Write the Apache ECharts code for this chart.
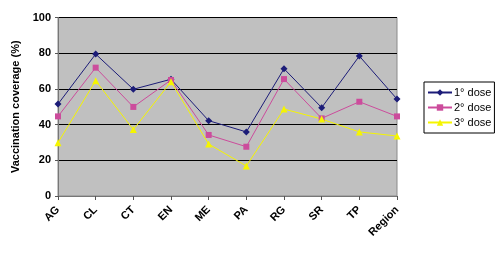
<!DOCTYPE html>
<html>
<head>
<meta charset="utf-8">
<script src="https://cdn.jsdelivr.net/npm/echarts@6/dist/echarts.min.js"></script>
<style>
  html, body { margin: 0; padding: 0; background: #fff; }
  #root { width: 500px; height: 256px; }
</style>
</head>
<body>
<div id="root"></div>
<script>
let root = document.getElementById('root');
let myCharts = echarts.init(root);

let categories = ['AG', 'CL', 'CT', 'EN', 'ME', 'PA', 'RG', 'SR', 'TP', 'Region'];
let dose1 = [51.5, 79.5, 59.8, 65.4, 42.2, 35.9, 71.3, 49.5, 78.4, 54.3];
let dose2 = [44.6, 71.9, 49.9, 65.0, 34.2, 27.6, 65.5, 43.5, 52.8, 44.6];
let dose3 = [29.9, 64.6, 37.2, 64.0, 29.1, 16.8, 48.7, 43.1, 35.9, 33.6];
let seriesNames = ['1° dose', '2° dose', '3° dose'];

let font = 'Liberation Sans, Arial, sans-serif';

let option = {
    animation: false,
    grid: {
        show: true,
        left: 58,
        right: 103,
        top: 17.5,
        bottom: 60,
        backgroundColor: '#c0c0c0',
        borderColor: '#8a8a8a',
        borderWidth: 1,
    },
    legend: {
        orient: 'vertical',
        left: 424,
        top: 82,
        itemWidth: 24,
        itemHeight: 8,
        itemGap: 4,
        padding: [5, 3, 5, 3],
        borderColor: '#000',
        borderWidth: 1,
        textStyle: { fontFamily: font, fontSize: 11, color: '#000', padding: [0, 0, 0, -3] },
        data: seriesNames,
    },
    xAxis: {
        type: 'category',
        data: categories,
        boundaryGap: false,
        axisLine: { lineStyle: { color: '#777', width: 1 } },
        axisTick: { show: true, alignWithLabel: true, length: 4, lineStyle: { color: '#555' } },
        axisLabel: {
            rotate: 45,
            margin: 12,
            fontFamily: font,
            fontSize: 11,
            fontWeight: 'bold',
            color: '#000',
        },
        splitLine: { show: false },
    },
    yAxis: {
        type: 'value',
        min: 0,
        max: 100,
        interval: 20,
        name: 'Vaccination coverage (%)',
        nameLocation: 'middle',
        nameGap: 29,
        nameTextStyle: { fontFamily: font, fontSize: 11, fontWeight: 'bold', color: '#000' },
        axisLine: { show: true, lineStyle: { color: '#777' } },
        axisTick: { show: true, length: 3, lineStyle: { color: '#555' } },
        axisLabel: { fontFamily: font, fontSize: 11, fontWeight: 'bold', color: '#000', margin: 7 },
        splitLine: { lineStyle: { color: '#000', width: 1 } },
    },
    series: [
        {
            name: seriesNames[0],
            type: 'line',
            data: dose1,
            symbol: 'diamond',
            symbolSize: 7,
            itemStyle: { color: '#1c1c78' },
            lineStyle: { color: '#1c1c78', width: 1 },
        },
        {
            name: seriesNames[1],
            type: 'line',
            data: dose2,
            symbol: 'rect',
            symbolSize: 6,
            itemStyle: { color: '#cc4c9c' },
            lineStyle: { color: '#cc4c9c', width: 1 },
        },
        {
            name: seriesNames[2],
            type: 'line',
            data: dose3,
            symbol: 'triangle',
            symbolSize: 7,
            itemStyle: { color: '#f5f500' },
            lineStyle: { color: '#f5f500', width: 1 },
        },
    ],
};
myCharts.setOption(option);
</script>
</body>
</html>
